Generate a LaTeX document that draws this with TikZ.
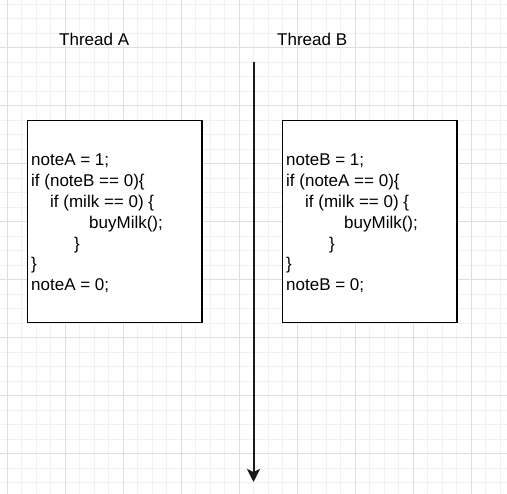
\documentclass[tikz,border=0pt]{standalone}
\usepackage{fontspec}
\setmainfont{Liberation Sans}
\usetikzlibrary{arrows.meta}
\definecolor{gridminor}{HTML}{F1F1F1}
\definecolor{gridmajor}{HTML}{DEDEDE}
\definecolor{arrowcol}{HTML}{1A1A1A}
\tikzset{
  minorline/.style={draw=gridminor, line width=0.9pt},
  majorline/.style={draw=gridmajor, line width=1pt},
  codebox/.style={draw=black, line width=1.3pt, fill=white, minimum width=174.3pt, minimum height=202.4pt, inner sep=0pt},
  codeline/.style={anchor=base west, inner sep=0pt, font=\fontsize{17}{20.8}\selectfont},
  title/.style={anchor=base west, inner sep=0pt, font=\fontsize{17}{20.8}\selectfont},
  timeline/.style={draw=arrowcol, line width=2pt, -{Stealth[length=13pt,width=13pt,inset=3pt]}}
}
\begin{document}
\begin{tikzpicture}[x=1pt,y=-1pt]
\useasboundingbox (0,0) rectangle (507,494);
\fill[white] (0,0) rectangle (507,494);
\begin{scope}
\clip (0,0) rectangle (507,494);
\foreach \i in {0,...,36} {
  \draw[minorline] ({-7.2+14.5*\i},0) -- ({-7.2+14.5*\i},494);
  \draw[minorline] (0,{-10.5+14.5*\i}) -- (507,{-10.5+14.5*\i});
}
\foreach \i in {0,...,9} {
  \draw[majorline] ({7.3+58*\i},0) -- ({7.3+58*\i},494);
  \draw[majorline] (0,{-10.5+58*\i}) -- (507,{-10.5+58*\i});
}
\end{scope}

\node[title] (tA) at (59,46) {Thread A};
\node[title] (tB) at (277,46) {Thread B};

\coordinate (ltop) at (253.5,62);
\coordinate (lbot) at (253.5,482);
\draw[timeline] (ltop) -- (lbot);

\node[codebox] (boxA) at (114.85,221.5) {};
\node[codebox] (boxB) at (369.85,221.5) {};

\node[codeline] (a1) at (31,166) {noteA = 1;};
\node[codeline] (a2) at (31,186.8) {if (noteB == 0)\{};
\node[codeline] (a3) at (50,207.6) {if (milk == 0) \{};
\node[codeline] (a4) at (89,228.4) {buyMilk();};
\node[codeline] (a5) at (74,249.2) {\}};
\node[codeline] (a6) at (31,270) {\}};
\node[codeline] (a7) at (31,290.8) {noteA = 0;};

\node[codeline] (b1) at (286,166) {noteB = 1;};
\node[codeline] (b2) at (286,186.8) {if (noteA == 0)\{};
\node[codeline] (b3) at (305,207.6) {if (milk == 0) \{};
\node[codeline] (b4) at (344,228.4) {buyMilk();};
\node[codeline] (b5) at (329,249.2) {\}};
\node[codeline] (b6) at (286,270) {\}};
\node[codeline] (b7) at (286,290.8) {noteB = 0;};
\end{tikzpicture}
\end{document}
